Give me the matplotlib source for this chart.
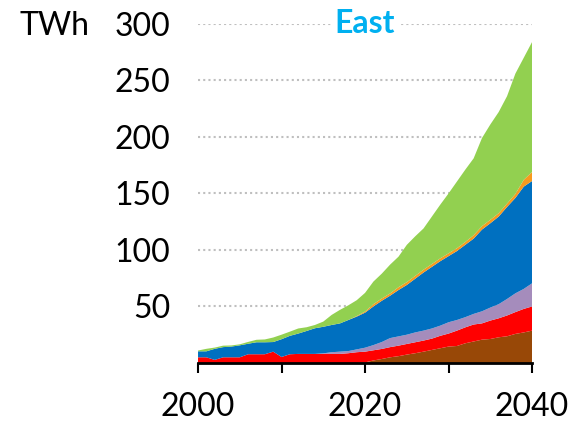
import numpy as np
import matplotlib.pyplot as plt

plt.rcParams["font.family"] = ["Lato", "DejaVu Sans"]

years = np.arange(2000, 2041)

# layer values in TWh (stacked from bottom)
brown = [0, 0, 0, 0, 0, 0, 0, 0, 0, 0,
         0, 0, 0, 0, 0, 0, 0, 0, 0, 0,
         0.5, 2.2, 3.5, 5, 6, 7.4, 8.6, 10, 11.5, 13,
         14.5, 15, 17.4, 19, 20.6, 21.2, 22.7, 23.6, 25.7, 27, 28.6]
red = [5, 5, 2.7, 5, 5, 5, 7.7, 7.7, 7.7, 10,
       5.3, 7.7, 8, 8, 8, 8, 8, 8, 8.6, 9.5,
       9.5, 9, 8.9, 9, 9.3, 9.4, 9.7, 9.8, 10, 11,
       11.5, 13.6, 14.1, 15, 14.4, 16.3, 16.8, 18.4, 19.3, 20.8, 21.4]
purple = [0, 0, 0, 0, 0, 0, 0, 0, 0, 0,
          0, 0, 0, 0, 0, 0.5, 1.5, 2, 1.9, 2.5,
          3.5, 4.6, 6.1, 8, 8.2, 8.2, 8.7, 8.8, 9, 9,
          10, 9.4, 9, 9.4, 10.7, 11.5, 12.5, 14.6, 16.6, 17.7, 20.5]
blue = [5.3, 5.3, 9.8, 9, 9.5, 10.6, 9.3, 10.6, 10.6, 8.5,
        15.7, 16.3, 18, 20.3, 22.7, 23.5, 24.1, 25, 27.5, 29,
        31, 34.2, 36.5, 37.5, 41, 44, 47.5, 51.4, 54.5, 57,
        58.5, 61, 64, 66.6, 72.3, 74.6, 77.5, 81.4, 84.4, 90.5, 90.5]
orange = [0, 0, 0, 0, 0, 0, 0, 0, 0, 0,
          0, 0, 0, 0, 0, 0, 0, 0, 0, 0.5,
          1, 2, 2, 2, 2.5, 2.5, 2.5, 2.5, 2.5, 2.5,
          2.5, 2.5, 2.5, 3, 3, 3, 3, 3, 3.5, 6, 8]
green = [0.7, 2.2, 1.1, 1.3, 1.0, 0.9, 1.6, 2.2, 2.5, 4.0,
         4.0, 3.7, 4.5, 3.3, 2.9, 4.6, 8.9, 12, 13, 14,
         16.5, 20, 22, 25.5, 27, 33, 35, 36.5, 42, 47.5,
         53, 59, 64, 68, 78, 84.4, 89.5, 95, 106.5, 108, 115]

colors = ["#984807", "#FF0000", "#A58CBC", "#0070C0", "#F79A1E", "#92D050"]

fig = plt.figure(figsize=(5.74, 4.26), dpi=100)
ax = fig.add_axes([0.345, 0.148, 0.582, 0.796])

ax.stackplot(years, brown, red, purple, blue, orange, green,
             colors=colors, linewidth=0, zorder=2)

ax.set_xlim(2000, 2040)
ax.set_ylim(0, 300)

ax.set_yticks([50, 100, 150, 200, 250, 300])
ax.yaxis.grid(True, linestyle=(0, (1, 1.5)), color="#BFBFBF", linewidth=1.5, zorder=1)
ax.set_axisbelow(True)

ax.set_xticks([2000, 2010, 2020, 2030, 2040])
ax.set_xticklabels(["2000", "", "2020", "", "2040"])
ax.tick_params(axis="x", direction="out", length=7, width=1.5, pad=14, labelsize=23)
ax.tick_params(axis="y", length=0, pad=20, labelsize=23)

for s in ["left", "right", "top"]:
    ax.spines[s].set_visible(False)
ax.spines["bottom"].set_linewidth(2)
ax.spines["bottom"].set_zorder(3)

ax.text(2020, 300, "East", color="#00B0F0", fontsize=23, fontweight="bold",
        ha="center", va="center", zorder=4,
        bbox=dict(facecolor="white", edgecolor="none", pad=2))

fig.text(20 / 574, 1 - 26 / 426, "TWh", fontsize=23, ha="left", va="center")

fig.savefig("out.png", dpi=100)
